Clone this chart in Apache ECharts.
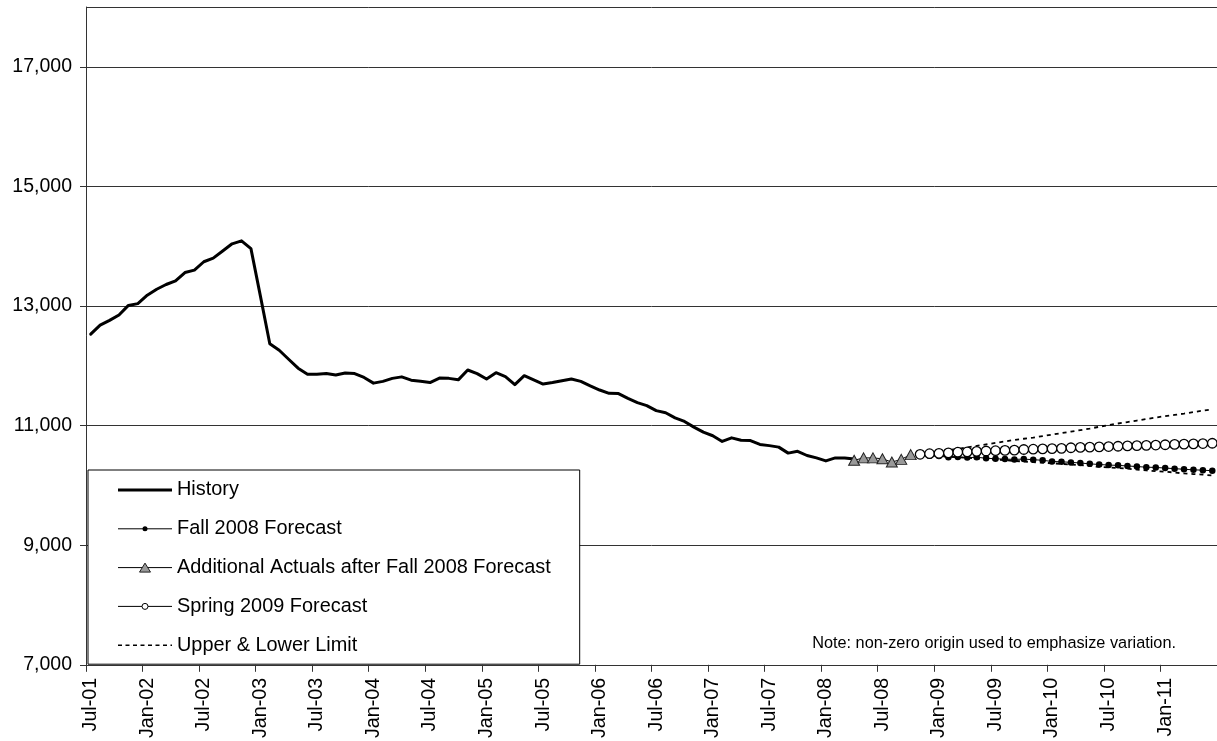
<!DOCTYPE html>
<html>
<head>
<meta charset="utf-8">
<script src="https://cdn.jsdelivr.net/npm/echarts@6/dist/echarts.min.js"></script>
<style>
html,body{margin:0;padding:0;background:#fff;}
#chart{width:1217px;height:741px;}
</style>
</head>
<body>
<div id="chart"></div>
<script>
// Category labels (monthly, Jul-01 .. Jun-11)
const categories = [
  'Jul-01','Aug-01','Sep-01','Oct-01','Nov-01','Dec-01',
  'Jan-02','Feb-02','Mar-02','Apr-02','May-02','Jun-02','Jul-02','Aug-02','Sep-02','Oct-02','Nov-02','Dec-02',
  'Jan-03','Feb-03','Mar-03','Apr-03','May-03','Jun-03','Jul-03','Aug-03','Sep-03','Oct-03','Nov-03','Dec-03',
  'Jan-04','Feb-04','Mar-04','Apr-04','May-04','Jun-04','Jul-04','Aug-04','Sep-04','Oct-04','Nov-04','Dec-04',
  'Jan-05','Feb-05','Mar-05','Apr-05','May-05','Jun-05','Jul-05','Aug-05','Sep-05','Oct-05','Nov-05','Dec-05',
  'Jan-06','Feb-06','Mar-06','Apr-06','May-06','Jun-06','Jul-06','Aug-06','Sep-06','Oct-06','Nov-06','Dec-06',
  'Jan-07','Feb-07','Mar-07','Apr-07','May-07','Jun-07','Jul-07','Aug-07','Sep-07','Oct-07','Nov-07','Dec-07',
  'Jan-08','Feb-08','Mar-08','Apr-08','May-08','Jun-08','Jul-08','Aug-08','Sep-08','Oct-08','Nov-08','Dec-08',
  'Jan-09','Feb-09','Mar-09','Apr-09','May-09','Jun-09','Jul-09','Aug-09','Sep-09','Oct-09','Nov-09','Dec-09',
  'Jan-10','Feb-10','Mar-10','Apr-10','May-10','Jun-10','Jul-10','Aug-10','Sep-10','Oct-10','Nov-10','Dec-10',
  'Jan-11','Feb-11','Mar-11','Apr-11','May-11','Jun-11'
];

// History: Jul-01 .. Apr-08
const historyStart = 0;
const history = [
  12530,12680,12760,12850,13010,13040,
  13180,13280,13360,13420,13560,13600,13740,13800,13920,14040,14090,13960,
  13170,12370,12260,12110,11960,11860,11860,11870,11845,11880,11870,11805,
  11710,11740,11790,11815,11760,11740,11720,11795,11790,11765,11930,11870,
  11780,11885,11820,11685,11835,11765,11695,11720,11750,11780,11740,11665,
  11595,11540,11535,11455,11385,11335,11250,11215,11130,11070,10975,10890,
  10830,10735,10795,10755,10750,10685,10665,10640,10540,10570,10500,10460,
  10410,10460,10460,10440
];

// Additional actuals after Fall 2008 forecast: Apr-08 .. Oct-08
const actualsStart = 81;
const actuals = [10420,10460,10460,10445,10390,10435,10515];

// Forecasts: Nov-08 .. Jun-11
const forecastStart = 88;
const fall2008 = [
  10510,10495,10490,10470,10475,10465,10470,10455,10445,10440,10435,10440,
  10430,10420,10400,10395,10385,10375,10360,10350,10340,10335,10325,10315,
  10305,10300,10290,10280,10270,10260,10255,10245
];
const spring2009 = [
  10520,10530,10535,10545,10555,10560,10570,10575,10580,10585,10590,10600,
  10605,10610,10615,10620,10630,10635,10640,10645,10650,10655,10660,10665,
  10670,10675,10680,10685,10690,10695,10700,10705
];
const upperLimit = [
  10530,10550,10570,10590,10610,10635,10660,10685,10710,10735,10760,10780,
  10800,10825,10850,10875,10900,10925,10950,10980,11010,11035,11060,11085,
  11110,11135,11160,11180,11200,11225,11250,11270
];
const lowerLimit = [
  10510,10500,10490,10480,10470,10460,10450,10440,10430,10420,10410,10400,
  10390,10380,10370,10360,10350,10340,10325,10310,10300,10290,10280,10265,
  10250,10240,10230,10215,10200,10190,10180,10165
];

// Y axis ticks
const yMin = 7000, yMax = 18000, yStep = 2000;

function place(values, start) {
  const out = new Array(categories.length).fill(null);
  values.forEach((v, i) => { out[start + i] = v; });
  return out;
}

function svgIcon(inner) {
  const svg = '<svg xmlns="http://www.w3.org/2000/svg" width="54" height="12" viewBox="0 0 54 12">' + inner + '</svg>';
  return 'image://data:image/svg+xml;charset=utf-8,' + encodeURIComponent(svg);
}
const icons = {
  history: svgIcon('<line x1="0" y1="6" x2="54" y2="6" stroke="#000" stroke-width="3"/>'),
  fall: svgIcon('<line x1="0" y1="6" x2="54" y2="6" stroke="#000" stroke-width="1"/><circle cx="27" cy="6" r="2.5" fill="#000"/>'),
  actual: svgIcon('<line x1="0" y1="6" x2="54" y2="6" stroke="#000" stroke-width="1"/><polygon points="27,1.5 32.5,10.5 21.5,10.5" fill="#999" stroke="#222" stroke-width="1"/>'),
  spring: svgIcon('<line x1="0" y1="6" x2="54" y2="6" stroke="#000" stroke-width="1"/><circle cx="27" cy="6" r="3" fill="#fff" stroke="#000" stroke-width="1"/>'),
  limit: svgIcon('<line x1="0" y1="6" x2="54" y2="6" stroke="#000" stroke-width="1.5" stroke-dasharray="4,3.5"/>')
};

const FONT = '"Liberation Sans", Arial, sans-serif';
const chart = echarts.init(document.getElementById('chart'), null, {renderer: 'canvas'});

chart.setOption({
  animation: false,
  backgroundColor: '#fff',
  textStyle: {fontFamily: FONT, color: '#000'},
  grid: {left: 86, right: 0, top: 7, bottom: 76, containLabel: false},
  title: {
    text: 'Note: non-zero origin used to emphasize variation.',
    right: 41, top: 635, padding: 0,
    textStyle: {fontFamily: FONT, fontSize: 16.3, fontWeight: 'normal', color: '#000', lineHeight: 18}
  },
  legend: {
    orient: 'vertical',
    left: 88, top: 470,
    padding: [10, 29, 9, 30],
    itemWidth: 54, itemHeight: 12, itemGap: 18.8,
    backgroundColor: '#fff', borderColor: '#000', borderWidth: 1,
    selectedMode: false,
    textStyle: {fontFamily: FONT, fontSize: 19.9, color: '#000', lineHeight: 20},
    data: [
      {name: 'History', icon: icons.history},
      {name: 'Fall 2008 Forecast', icon: icons.fall},
      {name: 'Additional Actuals after Fall 2008 Forecast', icon: icons.actual},
      {name: 'Spring 2009 Forecast', icon: icons.spring},
      {name: 'Upper & Lower Limit', icon: icons.limit}
    ]
  },
  xAxis: {
    type: 'category',
    data: categories,
    boundaryGap: true,
    axisLine: {show: true, lineStyle: {color: '#333', width: 1}},
    axisTick: {show: true, interval: 5, length: 7, lineStyle: {color: '#333'}},
    axisLabel: {interval: 5, rotate: 90, margin: 13, fontSize: 19.7, fontFamily: FONT, color: '#000'},
    splitLine: {show: false}
  },
  yAxis: {
    type: 'value',
    min: yMin, max: yMax, interval: yStep,
    axisLine: {show: true, lineStyle: {color: '#333', width: 1}},
    axisTick: {show: true, length: 6, lineStyle: {color: '#333'}},
    axisLabel: {
      margin: 14, fontSize: 19.5, fontFamily: FONT, color: '#000', showMaxLabel: false,
      formatter: v => v >= yMax ? '' : v.toLocaleString('en-US')
    },
    splitLine: {show: true, lineStyle: {color: '#333', width: 1}}
  },
  series: [
    {
      name: 'Upper & Lower Limit', type: 'line', data: place(upperLimit, forecastStart),
      symbol: 'none', lineStyle: {color: '#000', width: 1.8, type: [4, 4]}, itemStyle: {color: '#000'}, z: 2
    },
    {
      name: 'Upper & Lower Limit', type: 'line', data: place(lowerLimit, forecastStart),
      symbol: 'none', lineStyle: {color: '#000', width: 1.8, type: [4, 4]}, itemStyle: {color: '#000'}, z: 2
    },
    {
      name: 'History', type: 'line', data: place(history, historyStart),
      symbol: 'none', lineStyle: {color: '#000', width: 3, join: 'round', cap: 'round'}, itemStyle: {color: '#000'}, z: 3
    },
    {
      name: 'Fall 2008 Forecast', type: 'line', data: place(fall2008, forecastStart),
      symbol: 'circle', symbolSize: 6.5, showAllSymbol: true,
      lineStyle: {color: '#000', width: 1}, itemStyle: {color: '#000'}, z: 3
    },
    {
      name: 'Spring 2009 Forecast', type: 'line', data: place(spring2009, forecastStart),
      symbol: 'circle', symbolSize: 9.5, showAllSymbol: true,
      lineStyle: {color: '#000', width: 1}, itemStyle: {color: '#fff', borderColor: '#000', borderWidth: 1.3}, z: 4
    },
    {
      name: 'Additional Actuals after Fall 2008 Forecast', type: 'line', data: place(actuals, actualsStart),
      symbol: 'triangle', symbolSize: [11, 10], showAllSymbol: true,
      lineStyle: {color: '#000', width: 1}, itemStyle: {color: '#999', borderColor: '#222', borderWidth: 1}, z: 5
    }
  ]
});
</script>
</body>
</html>
